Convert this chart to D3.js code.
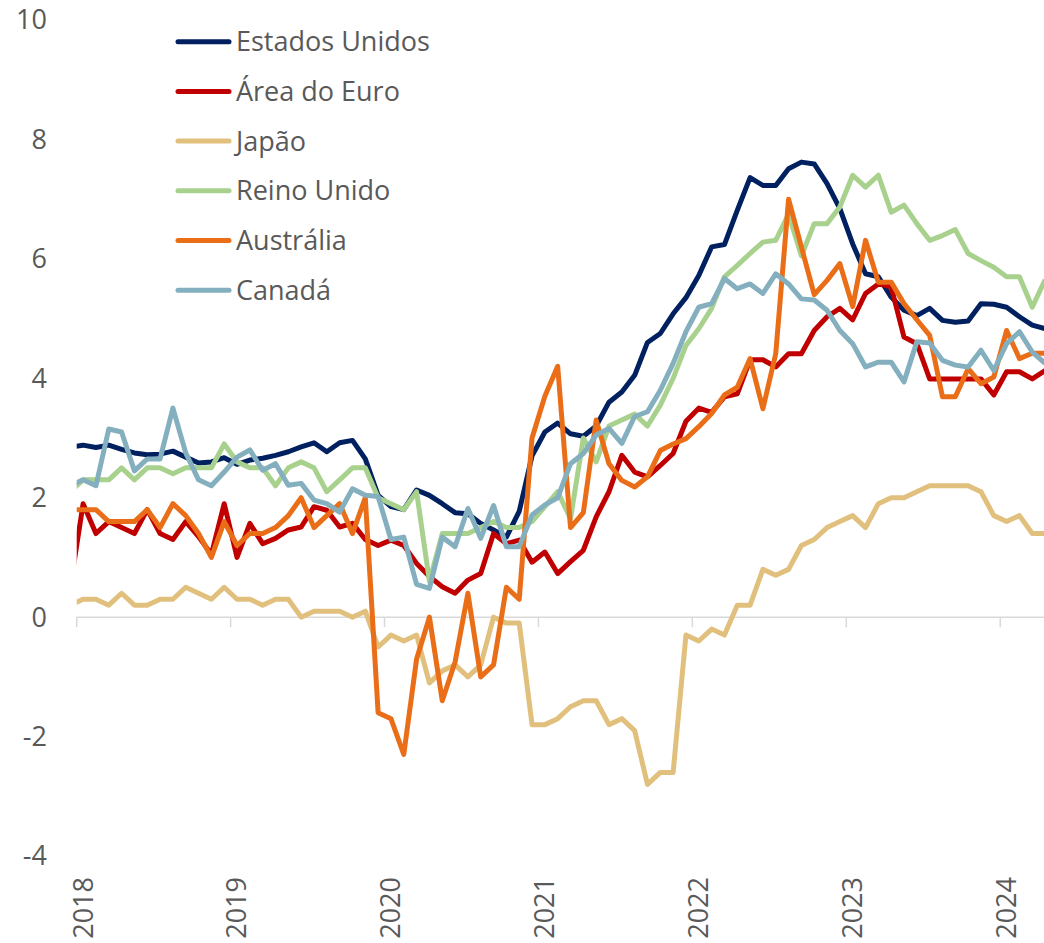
<!DOCTYPE html>
<html>
<head>
<meta charset="utf-8">
<script src="https://cdn.jsdelivr.net/npm/d3@7"></script>
<style>
  html, body { margin: 0; padding: 0; background: #fff; }
  svg { display: block; font-family: "Open Sans", Lato, sans-serif; }
</style>
</head>
<body>
<svg id="chart" width="1044" height="943"></svg>
<script>
// meses: dez/2017 (índice -1) até abr/2024 (índice 75)
const firstMonth = -1;
const years = [2018, 2019, 2020, 2021, 2022, 2023, 2024];
const yTicks = [-4, -2, 0, 2, 4, 6, 8, 10];

const estadosUnidos = [2.85, 2.88, 2.84, 2.88, 2.81, 2.75, 2.72, 2.73, 2.78, 2.68, 2.58, 2.6, 2.67,
  2.56, 2.63, 2.66, 2.71, 2.77, 2.85, 2.92, 2.77, 2.92, 2.96, 2.65, 2.04,
  1.85, 1.8, 2.13, 2.04, 1.9, 1.75, 1.73, 1.57, 1.46, 1.34, 1.77, 2.7,
  3.1, 3.25, 3.07, 3.03, 3.2, 3.6, 3.77, 4.05, 4.6, 4.75, 5.08, 5.35,
  5.72, 6.2, 6.24, 6.81, 7.36, 7.23, 7.23, 7.51, 7.62, 7.59, 7.26, 6.84,
  6.25, 5.75, 5.7, 5.36, 5.14, 5.05, 5.17, 4.97, 4.94, 4.96, 5.25, 5.24,
  5.19, 5.03, 4.89, 4.83];

const areaEuro = [0.5, 1.9, 1.4, 1.6, 1.5, 1.4, 1.8, 1.4, 1.3, 1.6, 1.35, 1.05, 1.9,
  1.0, 1.57, 1.23, 1.32, 1.46, 1.51, 1.85, 1.79, 1.51, 1.57, 1.3, 1.2,
  1.29, 1.2, 0.9, 0.68, 0.51, 0.4, 0.62, 0.73, 1.4, 1.23, 1.29, 0.92,
  1.09, 0.73, 0.93, 1.12, 1.68, 2.1, 2.71, 2.43, 2.35, 2.54, 2.74, 3.28,
  3.5, 3.43, 3.69, 3.74, 4.31, 4.31, 4.19, 4.41, 4.41, 4.8, 5.03, 5.17,
  4.98, 5.42, 5.58, 5.53, 4.69, 4.58, 3.99, 3.99, 3.99, 3.99, 3.99, 3.72,
  4.11, 4.11, 3.99, 4.13];

const japao = [0.2, 0.3, 0.3, 0.2, 0.4, 0.2, 0.2, 0.3, 0.3, 0.5, 0.4, 0.3, 0.5,
  0.3, 0.3, 0.2, 0.3, 0.3, 0.0, 0.1, 0.1, 0.1, 0.0, 0.1, -0.5,
  -0.3, -0.4, -0.3, -1.1, -0.9, -0.8, -1.0, -0.8, 0.0, -0.1, -0.1, -1.8,
  -1.8, -1.7, -1.5, -1.4, -1.4, -1.8, -1.7, -1.9, -2.8, -2.6, -2.6, -0.3,
  -0.4, -0.2, -0.3, 0.2, 0.2, 0.8, 0.7, 0.8, 1.2, 1.3, 1.5, 1.6,
  1.7, 1.5, 1.9, 2.0, 2.0, 2.1, 2.2, 2.2, 2.2, 2.2, 2.1, 1.7,
  1.6, 1.7, 1.4, 1.4];

const reinoUnido = [2.1, 2.3, 2.3, 2.3, 2.5, 2.3, 2.5, 2.5, 2.4, 2.5, 2.5, 2.5, 2.9,
  2.6, 2.5, 2.5, 2.2, 2.5, 2.6, 2.5, 2.1, 2.3, 2.5, 2.5, 2.0,
  1.9, 1.8, 2.1, 0.6, 1.4, 1.4, 1.4, 1.5, 1.6, 1.5, 1.5, 1.6,
  1.85, 2.1, 1.65, 3.0, 2.6, 3.2, 3.3, 3.4, 3.2, 3.55, 4.0, 4.55,
  4.83, 5.17, 5.7, 5.89, 6.09, 6.28, 6.31, 6.75, 6.05, 6.59, 6.59, 6.87,
  7.4, 7.2, 7.4, 6.78, 6.9, 6.59, 6.31, 6.39, 6.49, 6.09, 5.97, 5.86,
  5.7, 5.7, 5.19, 5.65];

const australia = [1.8, 1.8, 1.8, 1.6, 1.6, 1.6, 1.8, 1.5, 1.9, 1.7, 1.4, 1.0, 1.6,
  1.2, 1.4, 1.4, 1.5, 1.7, 2.0, 1.5, 1.7, 1.9, 1.4, 2.0, -1.6,
  -1.7, -2.3, -0.7, 0.0, -1.4, -0.75, 0.4, -1.0, -0.8, 0.5, 0.3, 3.0,
  3.7, 4.2, 1.5, 1.75, 3.3, 2.57, 2.29, 2.18, 2.35, 2.79, 2.9, 2.99,
  3.19, 3.41, 3.72, 3.85, 4.33, 3.49, 4.41, 7.0, 6.2, 5.4, 5.64, 5.92,
  5.2, 6.31, 5.61, 5.61, 5.25, 4.98, 4.72, 3.69, 3.69, 4.16, 3.91, 4.02,
  4.8, 4.33, 4.42, 4.42];

const canada = [2.2, 2.3, 2.2, 3.15, 3.1, 2.45, 2.65, 2.65, 3.5, 2.75, 2.3, 2.2, 2.43,
  2.68, 2.8, 2.46, 2.57, 2.21, 2.24, 1.96, 1.9, 1.76, 2.15, 2.04, 2.02,
  1.3, 1.34, 0.55, 0.48, 1.34, 1.18, 1.82, 1.32, 1.87, 1.18, 1.18, 1.71,
  1.88, 2.0, 2.57, 2.74, 3.05, 3.16, 2.91, 3.36, 3.44, 3.8, 4.25, 4.78,
  5.19, 5.25, 5.67, 5.5, 5.58, 5.42, 5.75, 5.58, 5.33, 5.31, 5.14, 4.8,
  4.58, 4.19, 4.27, 4.27, 3.94, 4.61, 4.59, 4.3, 4.22, 4.19, 4.47, 4.13,
  4.58, 4.78, 4.44, 4.25];

const seriesNames = ["Estados Unidos", "Área do Euro", "Japão", "Reino Unido", "Austrália", "Canadá"];
const seriesColors = ["#002060", "#C00000", "#E1C07D", "#A9D18E", "#EA6E17", "#84AFBE"];
const seriesValues = [estadosUnidos, areaEuro, japao, reinoUnido, australia, canada];

const svg = d3.select("#chart");
const W = 1044, H = 943;
const plotLeft = 76.7, plotRight = 1044;
const textColor = "#595959";
const fontSize = 27;

// cada mês ocupa uma categoria; ponto no centro, marcas de ano nas bordas
const x = d3.scaleLinear().domain([-0.5, 71.5]).range([plotLeft, 1000.2]);
const y = d3.scaleLinear().domain([-4, 10]).range([856, 20]);

svg.append("defs").append("clipPath").attr("id", "plotClip")
  .append("rect")
  .attr("x", plotLeft).attr("y", 0)
  .attr("width", plotRight - plotLeft).attr("height", H);

// eixo horizontal no zero
svg.append("line")
  .attr("x1", plotLeft).attr("x2", plotRight)
  .attr("y1", y(0)).attr("y2", y(0))
  .attr("stroke", "#d9d9d9").attr("stroke-width", 1.5);

svg.selectAll(".tick-x").data(years).enter().append("line")
  .attr("class", "tick-x")
  .attr("x1", d => x((d - 2018) * 12 - 0.5)).attr("x2", d => x((d - 2018) * 12 - 0.5))
  .attr("y1", y(0)).attr("y2", y(0) + 10)
  .attr("stroke", "#d9d9d9").attr("stroke-width", 1.5);

// rótulos dos anos, girados, na base do gráfico
svg.selectAll(".label-x").data(years).enter().append("text")
  .attr("class", "label-x")
  .attr("transform", d => `translate(${x((d - 2018) * 12)},877) rotate(-90)`)
  .attr("text-anchor", "end")
  .attr("dy", "0.35em")
  .attr("fill", textColor)
  .style("font-size", fontSize + "px")
  .text(d => d);

// rótulos do eixo y (sem linha)
svg.selectAll(".label-y").data(yTicks).enter().append("text")
  .attr("class", "label-y")
  .attr("x", 47).attr("y", d => y(d))
  .attr("dy", "0.35em")
  .attr("text-anchor", "end")
  .attr("fill", textColor)
  .style("font-size", fontSize + "px")
  .text(d => d);

const line = d3.line()
  .x((d, i) => x(i + firstMonth))
  .y(d => y(d));

svg.append("g").attr("clip-path", "url(#plotClip)")
  .selectAll("path").data(seriesValues).enter().append("path")
  .attr("d", d => line(d))
  .attr("fill", "none")
  .attr("stroke", (d, i) => seriesColors[i])
  .attr("stroke-width", 5)
  .attr("stroke-linejoin", "round");

// legenda
const legend = svg.append("g").selectAll("g").data(seriesNames).enter().append("g")
  .attr("transform", (d, i) => `translate(0,${41.7 + i * 49.7})`);

legend.append("line")
  .attr("x1", 178).attr("x2", 229)
  .attr("stroke", (d, i) => seriesColors[i])
  .attr("stroke-width", 5)
  .attr("stroke-linecap", "round");

legend.append("text")
  .attr("x", 236).attr("dy", "0.35em")
  .attr("fill", textColor)
  .style("font-size", fontSize + "px")
  .text(d => d);
</script>
</body>
</html>
